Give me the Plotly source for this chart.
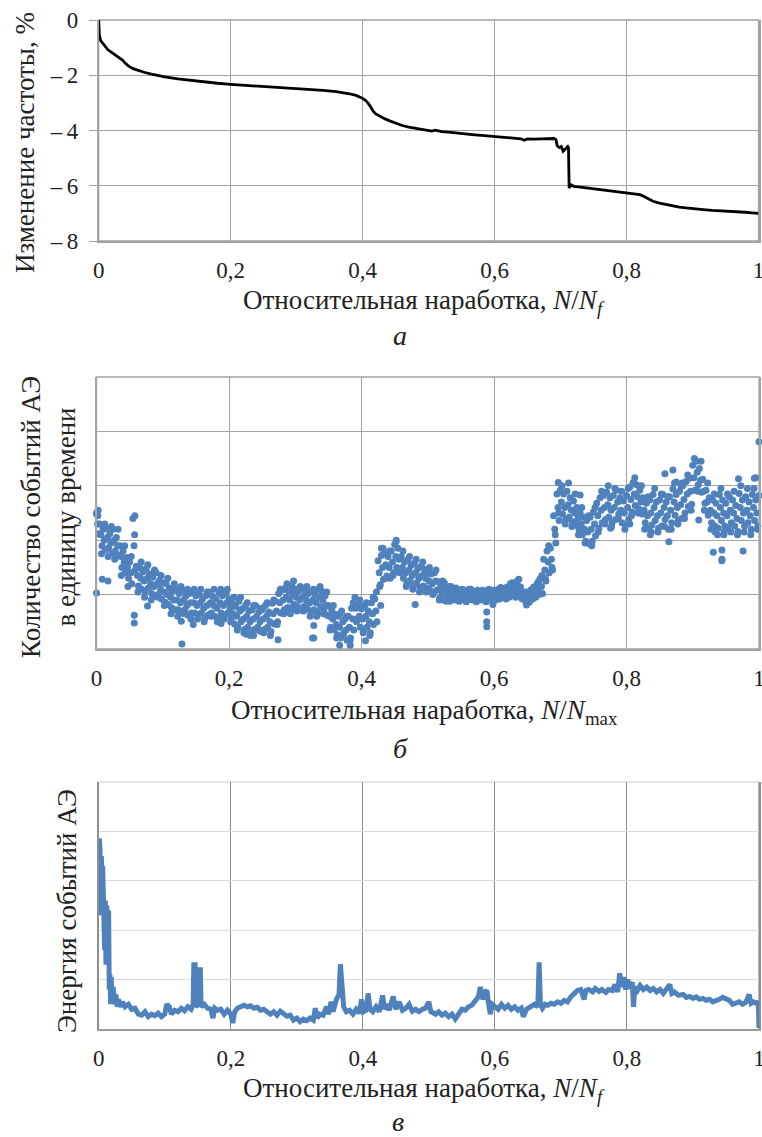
import plotly.graph_objects as go

# ---------------- Panel a: frequency change, % ----------------
a_x = [0, 0.001, 0.003, 0.008, 0.014, 0.02, 0.026, 0.032, 0.036, 0.04, 0.045, 0.052, 0.06, 0.07,
       0.08, 0.09, 0.1, 0.12, 0.14, 0.16, 0.18, 0.2, 0.22, 0.24, 0.26, 0.28, 0.3, 0.32, 0.34,
       0.36, 0.37, 0.38, 0.39, 0.398, 0.404, 0.408, 0.412, 0.416, 0.42, 0.426, 0.434, 0.442,
       0.45, 0.46, 0.47, 0.48, 0.49, 0.5, 0.505, 0.51, 0.52, 0.53, 0.54, 0.55, 0.56, 0.57,
       0.58, 0.59, 0.6, 0.61, 0.62, 0.63, 0.64, 0.645, 0.65, 0.66, 0.67, 0.68, 0.69, 0.693,
       0.695, 0.698, 0.701, 0.704, 0.706, 0.708, 0.711, 0.712, 0.713, 0.716, 0.72, 0.73, 0.74,
       0.75, 0.76, 0.77, 0.78, 0.79, 0.8, 0.81, 0.82, 0.826, 0.832, 0.84, 0.85, 0.86, 0.87,
       0.88, 0.89, 0.9, 0.91, 0.92, 0.93, 0.94, 0.95, 0.96, 0.97, 0.98, 0.99, 1.0]
a_y = [0, -0.55, -0.75, -0.92, -1.08, -1.18, -1.27, -1.36, -1.45, -1.56, -1.66, -1.76, -1.83,
       -1.90, -1.96, -2.01, -2.06, -2.13, -2.19, -2.24, -2.29, -2.33, -2.36, -2.38, -2.41,
       -2.44, -2.47, -2.51, -2.55, -2.59, -2.62, -2.67, -2.73, -2.81, -2.90, -3.00, -3.14,
       -3.30, -3.40, -3.49, -3.58, -3.66, -3.74, -3.82, -3.88, -3.92, -3.96, -3.98, -4.02,
       -3.99, -4.04, -4.06, -4.09, -4.11, -4.14, -4.16, -4.18, -4.20, -4.22, -4.23, -4.25,
       -4.27, -4.30, -4.35, -4.30, -4.31, -4.31, -4.30, -4.29, -4.33, -4.55, -4.62, -4.58,
       -4.75, -4.70, -4.62, -4.58, -4.62, -6.08, -5.97, -6.02, -6.05, -6.08, -6.11, -6.14,
       -6.17, -6.20, -6.23, -6.26, -6.28, -6.32, -6.38, -6.47, -6.56, -6.63, -6.68, -6.73,
       -6.77, -6.80, -6.83, -6.85, -6.87, -6.89, -6.90, -6.92, -6.93, -6.95, -6.96, -6.98, -7.0]

# ---------------- Panel b: AE event count per unit time (scatter) ----------------
b_x_upper = [round(i * 0.005, 4) for i in range(201)]
b_x_mid = [round(i * 0.005 + 0.0017, 4) for i in range(201)]
b_x_lower = [round(i * 0.005 + 0.0033, 4) for i in range(201)]
b_x_extra = [round(i * 0.005 + 0.0025, 4) for i in range(201)]
b_mid = [2.3, 2.1, 2.0, 2.05, 1.95, 2.0, 1.9, 1.7, 1.6, 1.5,
         1.4, 1.9, 1.35, 1.3, 1.25, 1.3, 1.2, 1.15, 1.2, 1.1,
         1.05, 1.0, 0.95, 0.9, 0.9, 0.85, 0.9, 0.8, 0.85, 0.85,
         0.8, 0.85, 0.75, 0.8, 0.85, 0.8, 0.75, 0.85, 0.8, 0.85,
         0.75, 0.65, 0.6, 0.7, 0.55, 0.6, 0.5, 0.55, 0.6, 0.5,
         0.55, 0.6, 0.5, 0.65, 0.7, 0.85, 0.9, 0.95, 0.9, 1.0,
         0.95, 0.9, 0.95, 0.9, 0.85, 0.9, 0.85, 0.95, 0.9, 0.8,
         0.6, 0.55, 0.45, 0.4, 0.5, 0.35, 0.4, 0.55, 0.75, 0.6,
         0.55, 0.6, 0.5, 0.65, 0.7, 1.4, 1.5, 1.55, 1.5, 1.6,
         1.7, 1.65, 1.5, 1.4, 1.45, 1.35, 1.4, 1.3, 1.35, 1.3,
         1.25, 1.2, 1.25, 1.1, 1.05, 1.1, 1.0, 1.05, 1.0, 1.0,
         1.0, 0.95, 1.0, 1.0, 0.95, 1.0, 0.98, 0.95, 1.0, 0.9,
         1.0, 1.0, 1.05, 1.0, 1.05, 1.1, 1.05, 1.15, 1.05, 0.95,
         0.95, 1.0, 1.05, 1.1, 1.15, 1.45, 1.6, 1.65, 2.2, 2.6,
         2.7, 2.6, 2.65, 2.55, 2.5, 2.4, 2.3, 2.2, 2.15, 2.2,
         2.3, 2.45, 2.55, 2.6, 2.65, 2.55, 2.6, 2.7, 2.55, 2.5,
         2.6, 2.75, 2.85, 2.8, 2.7, 2.55, 2.45, 2.5, 2.6, 2.45,
         2.5, 2.6, 2.45, 2.55, 2.7, 2.6, 2.65, 2.75, 2.85, 2.9,
         3.15, 3.25, 3.1, 2.9, 2.7, 2.55, 2.5, 2.45, 2.6, 2.5,
         2.45, 2.55, 2.5, 2.4, 2.6, 2.5, 2.55, 2.45, 2.6, 2.5,
         2.6]
b_upper = [2.48, 2.3, 2.2, 2.22, 2.12, 2.2, 2.05, 1.9, 1.8, 1.68,
           1.6, 2.4, 1.52, 1.5, 1.42, 1.48, 1.38, 1.32, 1.4, 1.26,
           1.22, 1.2, 1.12, 1.06, 1.1, 1.02, 1.08, 0.98, 1.02, 1.04,
           0.98, 1.02, 0.92, 0.98, 1.05, 0.97, 0.92, 1.03, 0.98, 1.02,
           0.92, 0.84, 0.78, 0.88, 0.74, 0.8, 0.7, 0.72, 0.8, 0.68,
           0.72, 0.8, 0.68, 0.84, 0.88, 1.02, 1.08, 1.12, 1.06, 1.16,
           1.1, 1.06, 1.12, 1.05, 1.02, 1.06, 1.0, 1.1, 1.06, 0.98,
           0.8, 0.72, 0.64, 0.6, 0.7, 0.55, 0.6, 0.75, 0.95, 0.82,
           0.74, 0.8, 0.7, 0.85, 0.92, 1.62, 1.72, 1.75, 1.7, 1.8,
           1.92, 1.85, 1.7, 1.6, 1.64, 1.54, 1.58, 1.48, 1.52, 1.46,
           1.42, 1.38, 1.4, 1.24, 1.18, 1.22, 1.12, 1.15, 1.1, 1.1,
           1.08, 1.04, 1.08, 1.1, 1.04, 1.08, 1.06, 1.04, 1.08, 1.0,
           1.08, 1.09, 1.13, 1.08, 1.14, 1.2, 1.14, 1.25, 1.14, 1.04,
           1.04, 1.08, 1.14, 1.2, 1.3, 1.65, 1.8, 1.85, 2.45, 2.85,
           2.92, 2.85, 2.9, 2.78, 2.72, 2.6, 2.5, 2.42, 2.36, 2.42,
           2.52, 2.68, 2.78, 2.82, 2.88, 2.78, 2.82, 2.92, 2.78, 2.72,
           2.82, 2.98, 3.06, 3.02, 2.92, 2.78, 2.68, 2.74, 2.84, 2.7,
           2.74, 2.84, 2.7, 2.8, 2.94, 2.84, 2.9, 3.0, 3.08, 3.14,
           3.38, 3.45, 3.32, 3.12, 2.92, 2.78, 2.74, 2.68, 2.84, 2.74,
           2.68, 2.8, 2.74, 2.64, 2.86, 2.74, 2.8, 2.7, 2.84, 2.74,
           2.82]
b_lower = [2.12, 1.9, 1.82, 1.86, 1.76, 1.8, 1.72, 1.5, 1.4, 1.3,
           1.2, 1.45, 1.16, 1.1, 1.06, 1.12, 1.02, 0.98, 1.0, 0.92,
           0.86, 0.82, 0.76, 0.72, 0.72, 0.66, 0.72, 0.62, 0.66, 0.66,
           0.62, 0.66, 0.56, 0.62, 0.66, 0.6, 0.56, 0.66, 0.62, 0.66,
           0.56, 0.46, 0.4, 0.5, 0.36, 0.4, 0.3, 0.36, 0.4, 0.32,
           0.36, 0.4, 0.32, 0.46, 0.5, 0.66, 0.72, 0.76, 0.72, 0.82,
           0.78, 0.72, 0.78, 0.74, 0.68, 0.72, 0.68, 0.78, 0.72, 0.62,
           0.4, 0.36, 0.26, 0.2, 0.3, 0.16, 0.2, 0.35, 0.55, 0.4,
           0.36, 0.4, 0.3, 0.45, 0.5, 1.18, 1.28, 1.34, 1.3, 1.4,
           1.5, 1.45, 1.3, 1.2, 1.26, 1.16, 1.22, 1.12, 1.16, 1.12,
           1.08, 1.02, 1.08, 0.94, 0.9, 0.96, 0.88, 0.92, 0.9, 0.9,
           0.92, 0.87, 0.92, 0.92, 0.87, 0.92, 0.9, 0.87, 0.92, 0.82,
           0.92, 0.92, 0.97, 0.92, 0.97, 1.0, 0.96, 1.05, 0.96, 0.86,
           0.86, 0.92, 0.96, 1.0, 1.02, 1.25, 1.4, 1.45, 1.95, 2.36,
           2.48, 2.38, 2.42, 2.34, 2.28, 2.2, 2.1, 1.98, 1.94, 1.98,
           2.08, 2.22, 2.32, 2.38, 2.42, 2.32, 2.38, 2.48, 2.32, 2.28,
           2.38, 2.52, 2.64, 2.58, 2.48, 2.32, 2.22, 2.28, 2.36, 2.22,
           2.26, 2.38, 2.2, 2.32, 2.46, 2.36, 2.4, 2.5, 2.62, 2.66,
           2.92, 3.02, 2.88, 2.68, 2.46, 2.32, 2.26, 2.22, 2.36, 2.26,
           2.22, 2.32, 2.26, 2.16, 2.36, 2.26, 2.32, 2.2, 2.36, 2.26,
           2.38]
b_extra = [2.55, 1.75, 2.3, 1.7, 2.25, 1.65, 2.2, 1.35, 1.9, 1.15,
           1.7, 2.1, 1.05, 1.6, 0.95, 1.55, 0.9, 1.45, 0.95, 1.35,
           0.8, 1.3, 0.65, 1.2, 0.6, 1.15, 0.65, 1.1, 0.55, 1.1,
           0.55, 1.1, 0.5, 1.05, 0.6, 1.1, 0.5, 1.1, 0.55, 1.1,
           0.5, 0.95, 0.35, 0.95, 0.3, 0.85, 0.25, 0.8, 0.35, 0.75,
           0.3, 0.85, 0.25, 0.9, 0.45, 1.1, 0.65, 1.2, 0.65, 1.25,
           0.7, 1.15, 0.7, 1.15, 0.6, 1.1, 0.6, 1.15, 0.65, 1.05,
           0.35, 0.8, 0.2, 0.65, 0.25, 0.6, 0.15, 0.85, 0.5, 0.9,
           0.3, 0.85, 0.25, 0.95, 1.05, 1.15, 1.85, 1.3, 1.8, 1.35,
           2.0, 1.4, 1.8, 1.15, 1.7, 1.1, 1.65, 1.05, 1.6, 1.05,
           1.5, 1.0, 1.45, 0.9, 1.25, 0.88, 1.15, 0.9, 1.12, 0.88,
           1.1, 0.88, 1.1, 0.9, 1.06, 0.9, 1.08, 0.88, 1.1, 0.95,
           0.9, 1.1, 0.95, 1.12, 0.95, 1.22, 0.95, 1.28, 0.92, 1.05,
           0.88, 1.1, 0.95, 1.25, 1.35, 1.3, 1.9, 1.5, 2.1, 2.5,
           3.0, 2.3, 3.05, 2.25, 2.85, 2.1, 2.6, 1.95, 2.45, 1.9,
           2.6, 2.15, 2.9, 2.3, 3.0, 2.25, 2.95, 2.4, 2.9, 2.2,
           2.95, 2.45, 3.15, 2.5, 3.0, 2.2, 2.8, 2.15, 2.95, 2.15,
           2.85, 2.25, 2.8, 2.2, 3.05, 2.3, 3.0, 2.4, 3.2, 2.55,
           3.5, 2.9, 3.45, 2.55, 3.05, 2.2, 2.85, 2.1, 2.95, 2.15,
           2.85, 2.15, 2.9, 2.1, 3.0, 2.15, 2.95, 2.1, 2.95, 2.2,
           2.9]
b_out_x = [0.0, 0.0, 0.002, 0.0087, 0.0173, 0.057, 0.057, 0.058, 0.077, 0.128, 0.129, 0.146,
           0.188, 0.226, 0.237, 0.274, 0.29, 0.326, 0.328, 0.328, 0.367, 0.383, 0.406, 0.429,
           0.43, 0.452, 0.481, 0.589, 0.589, 0.589, 0.649, 0.697, 0.73, 0.776, 0.805, 0.836,
           0.858, 0.864, 0.87, 0.875, 0.884, 0.909, 0.931, 0.934, 0.944, 0.944, 0.944, 0.947,
           0.969, 0.976, 0.993, 0.995, 1.0]
b_out_y = [1.03, 2.5, 2.45, 1.28, 1.25, 0.62, 0.48, 2.45, 0.79, 0.51, 0.09, 0.45,
           0.47, 0.27, 0.25, 0.17, 0.76, 0.2, 0.43, 0.2, 0.07, 0.07, 0.15, 0.8,
           1.85, 1.97, 0.82, 0.41, 0.5, 0.68, 0.81, 3.06, 2.83, 2.22, 2.3, 2.1,
           3.22, 1.97, 3.29, 3.07, 3.05, 2.37, 1.78, 2.15, 1.82, 1.65, 1.62, 2.1,
           3.13, 1.8, 3.14, 3.15, 3.81]

# ---------------- Panel c: AE event energy (line) ----------------
c_x = [0.0, 0.001, 0.002, 0.003, 0.004, 0.005, 0.006, 0.007, 0.008, 0.009, 0.010, 0.011,
       0.012, 0.013, 0.014, 0.015, 0.016, 0.017, 0.018, 0.019, 0.020, 0.022, 0.024, 0.026,
       0.028, 0.030, 0.033, 0.036, 0.04, 0.045, 0.05, 0.055, 0.06, 0.065, 0.07, 0.075, 0.08,
       0.085, 0.09, 0.095, 0.1, 0.103, 0.107, 0.11, 0.115, 0.12, 0.125, 0.13, 0.135, 0.14,
       0.143, 0.144, 0.146, 0.147, 0.151, 0.152, 0.154, 0.155, 0.16, 0.165, 0.17, 0.173,
       0.176, 0.18, 0.185, 0.19, 0.195, 0.2, 0.203, 0.206, 0.21, 0.215, 0.22, 0.225, 0.23,
       0.235, 0.24, 0.245, 0.25, 0.255, 0.26, 0.265, 0.27, 0.275, 0.28, 0.285, 0.29, 0.295,
       0.3, 0.305, 0.31, 0.315, 0.32, 0.325, 0.328, 0.331, 0.335, 0.34, 0.345, 0.348, 0.352,
       0.355, 0.36, 0.364, 0.366, 0.368, 0.371, 0.375, 0.38, 0.385, 0.39, 0.395, 0.398,
       0.401, 0.405, 0.408, 0.411, 0.415, 0.42, 0.425, 0.43, 0.433, 0.437, 0.44, 0.446, 0.45,
       0.455, 0.46, 0.465, 0.47, 0.475, 0.48, 0.485, 0.49, 0.495, 0.5, 0.503, 0.51, 0.515,
       0.52, 0.525, 0.53, 0.535, 0.54, 0.545, 0.55, 0.555, 0.56, 0.565, 0.57, 0.575, 0.578,
       0.582, 0.585, 0.588, 0.59, 0.593, 0.596, 0.6, 0.605, 0.61, 0.615, 0.62, 0.625, 0.63,
       0.635, 0.64, 0.643, 0.648, 0.655, 0.66, 0.665, 0.667, 0.669, 0.672, 0.676, 0.68,
       0.685, 0.69, 0.695, 0.7, 0.705, 0.71, 0.715, 0.72, 0.725, 0.73, 0.735, 0.738, 0.742,
       0.748, 0.752, 0.758, 0.762, 0.768, 0.772, 0.778, 0.782, 0.786, 0.789, 0.792, 0.795,
       0.798, 0.801, 0.804, 0.808, 0.81, 0.812, 0.816, 0.82, 0.825, 0.83, 0.835, 0.84,
       0.845, 0.85, 0.855, 0.86, 0.865, 0.868, 0.872, 0.878, 0.885, 0.89, 0.895, 0.9, 0.905,
       0.91, 0.915, 0.92, 0.925, 0.93, 0.935, 0.94, 0.945, 0.95, 0.955, 0.96, 0.965, 0.97,
       0.975, 0.98, 0.985, 0.988, 0.992, 0.996, 0.999, 1.0]
c_y = [2.3, 3.86, 3.6, 2.4, 3.5, 3.1, 3.3, 2.2, 2.9, 1.6, 2.6, 1.3,
       2.5, 2.3, 1.4, 2.4, 0.8, 1.1, 0.5, 1.05, 0.55, 0.85, 0.5, 0.7,
       0.45, 0.6, 0.45, 0.55, 0.45, 0.5, 0.4, 0.42, 0.3, 0.28, 0.35, 0.25, 0.3,
       0.27, 0.32, 0.25, 0.3, 0.5, 0.45, 0.3, 0.38, 0.35, 0.42, 0.37, 0.45, 0.4,
       0.5, 1.3, 1.3, 0.45, 0.5, 1.2, 1.2, 0.45, 0.5, 0.42, 0.4, 0.22,
       0.42, 0.38, 0.4, 0.3, 0.38, 0.3, 0.12, 0.35, 0.42, 0.45, 0.48, 0.45, 0.47,
       0.42, 0.44, 0.38, 0.4, 0.35, 0.3, 0.35, 0.28, 0.36, 0.32, 0.26, 0.28, 0.18,
       0.22, 0.15, 0.2, 0.17, 0.22, 0.18, 0.42, 0.22, 0.3, 0.28, 0.45, 0.3, 0.55,
       0.35, 0.6, 0.7, 1.31, 0.9, 0.45, 0.35, 0.38, 0.3, 0.4, 0.32, 0.6,
       0.35, 0.38, 0.72, 0.4, 0.35, 0.45, 0.35, 0.68, 0.4, 0.5, 0.38, 0.66, 0.4,
       0.55, 0.38, 0.42, 0.5, 0.36, 0.4, 0.35, 0.4, 0.42, 0.55, 0.35, 0.3, 0.35,
       0.28, 0.32, 0.25, 0.3, 0.2, 0.3, 0.4, 0.38, 0.45, 0.48, 0.55, 0.65, 0.85,
       0.6, 0.75, 0.78, 0.55, 0.3, 0.5, 0.45, 0.4, 0.5, 0.42, 0.48, 0.4, 0.45,
       0.38, 0.42, 0.25, 0.4, 0.45, 0.5, 0.45, 1.35, 0.5, 0.42, 0.5, 0.48,
       0.52, 0.5, 0.55, 0.52, 0.58, 0.55, 0.65, 0.72, 0.78, 0.8, 0.6, 0.78, 0.8,
       0.75, 0.82, 0.76, 0.8, 0.74, 0.8, 0.78, 0.9, 0.75, 1.13, 0.85, 1.05,
       0.8, 1.0, 0.82, 0.95, 0.45, 0.85, 0.78, 0.88, 0.8, 0.85, 0.78, 0.82,
       0.75, 0.8, 0.72, 0.8, 0.9, 0.72, 0.75, 0.68, 0.7, 0.64, 0.66, 0.62, 0.65,
       0.6, 0.62, 0.58, 0.6, 0.55, 0.57, 0.6, 0.64, 0.6, 0.58, 0.5, 0.52, 0.55,
       0.5, 0.54, 0.7, 0.52, 0.55, 0.52, 0.55, 0.02]

x_tickvals = [0, 0.2, 0.4, 0.6, 0.8, 1]
x_ticktext = ["0", "0,2", "0,4", "0,6", "0,8", "1"]
a_tickvals = [0, -2, -4, -6, -8]
a_ticktext = ["0", "–\u20092", "–\u20094", "–\u20096", "–\u20098"]

W, H = 762, 1137
FONT = "Liberation Serif"
BLUE = "#4f81bd"
GRID = "#a3a3a3"

def px(v):
    return v / W

def py(v):
    return 1 - v / H

fig = go.Figure()
fig.add_trace(go.Scatter(x=a_x, y=a_y, mode="lines", line=dict(color="black", width=2.8),
                         xaxis="x", yaxis="y", showlegend=False))
for xs, row in ((b_x_extra, b_extra), (b_x_upper, b_upper), (b_x_mid, b_mid),
                (b_x_lower, b_lower), (b_out_x, b_out_y)):
    fig.add_trace(go.Scatter(x=xs, y=row, mode="markers",
                             marker=dict(color=BLUE, size=7, line=dict(width=0)),
                             xaxis="x2", yaxis="y2", showlegend=False, cliponaxis=False))
fig.add_trace(go.Scatter(x=c_x, y=c_y, mode="lines", line=dict(color=BLUE, width=5),
                         xaxis="x3", yaxis="y3", showlegend=False))

tickfont = dict(family=FONT, size=23, color="#222222")
common_x = dict(range=[0, 1], tickvals=x_tickvals, ticktext=x_ticktext, tickfont=tickfont,
                showgrid=True, gridcolor=GRID, gridwidth=1.2, zeroline=False,
                showline=True, linecolor=GRID, linewidth=1.5, ticks="outside", ticklen=4,
                tickcolor="rgba(0,0,0,0)", ticklabelstandoff=4, fixedrange=True,
                automargin=False, ticklabeloverflow="allow")
common_y = dict(showgrid=True, gridwidth=1.2, zeroline=False, showline=True, linewidth=1.5,
                mirror=True, automargin=False, fixedrange=True)

fig.update_layout(
    width=W, height=H, margin=dict(l=0, r=0, t=0, b=0, autoexpand=False),
    paper_bgcolor="white", plot_bgcolor="white",
    font=dict(family=FONT),
    xaxis=dict(domain=[px(98.7), px(758.5)], anchor="y", **common_x),
    yaxis=dict(domain=[py(241), py(20)], anchor="x", range=[-8, 0], tickvals=a_tickvals,
               ticktext=a_ticktext, tickfont=tickfont, gridcolor=GRID, linecolor=GRID,
               ticks="outside", ticklen=8, tickcolor=GRID, tickwidth=1.2,
               ticklabelstandoff=6, ticklabeloverflow="allow", **common_y),
    xaxis2=dict(domain=[px(96.5), px(759)], anchor="y2", **common_x),
    yaxis2=dict(domain=[py(649), py(377)], anchor="x2", range=[0, 5], dtick=1,
                showticklabels=False, gridcolor=GRID, linecolor=GRID, **common_y),
    xaxis3=dict(domain=[px(98.7), px(759)], anchor="y3",
                **{**common_x, "gridcolor": "#8e8e8e", "linecolor": "#9a9a9a"}),
    yaxis3=dict(domain=[py(1029), py(782)], anchor="x3", range=[0, 5], dtick=1,
                showticklabels=False, gridcolor="#dcdcdc", linecolor="#8e8e8e", **common_y),
)

# panel frames (right and top edges), drawn in axis-domain coordinates
for xr, yr, col in (("x", "y", GRID), ("x2", "y2", GRID)):
    fig.add_shape(type="rect", xref=xr + " domain", yref=yr + " domain", x0=0, x1=1, y0=0,
                  y1=1, line=dict(color=col, width=1.3), layer="below")
fig.add_shape(type="line", xref="x3 domain", yref="y3 domain", x0=1, x1=1, y0=0, y1=1,
              line=dict(color="#8e8e8e", width=1.3), layer="below")
fig.add_shape(type="line", xref="x3 domain", yref="y3 domain", x0=0, x1=1, y0=1, y1=1,
              line=dict(color="#dcdcdc", width=1.3), layer="below")

title_font = dict(family=FONT, size=27, color="#222222")
cap_font = dict(family=FONT, size=28, color="#222222")
xtitle_f = "Относительная наработка, <i>N</i>/<i>N</i><sub><i>f</i></sub>"
xtitle_max = "Относительная наработка, <i>N</i>/<i>N</i><sub>max</sub>"
annots = [
    (xtitle_f, 424, 302, 0, title_font),
    ("<i>а</i>", 400, 336, 0, cap_font),
    (xtitle_max, 424, 712, 0, title_font),
    ("<i>б</i>", 400, 748, 0, cap_font),
    (xtitle_f, 424, 1090, 0, title_font),
    ("<i>в</i>", 398, 1121, 0, cap_font),
    ("Изменение частоты, %", 25, 143, -90, title_font),
    ("Количество событий АЭ<br>в единицу времени", 48, 517, -90, title_font),
    ("Энергия событий АЭ", 67, 911, -90, title_font),
]
for text, x, y, ang, f in annots:
    fig.add_annotation(text=text, x=px(x), y=py(y), xref="paper", yref="paper",
                       showarrow=False, textangle=ang, font=f, xanchor="center",
                       yanchor="middle")

fig.write_html("out.html", config={"displayModeBar": False},
               post_script="document.body.style.margin='0';")
